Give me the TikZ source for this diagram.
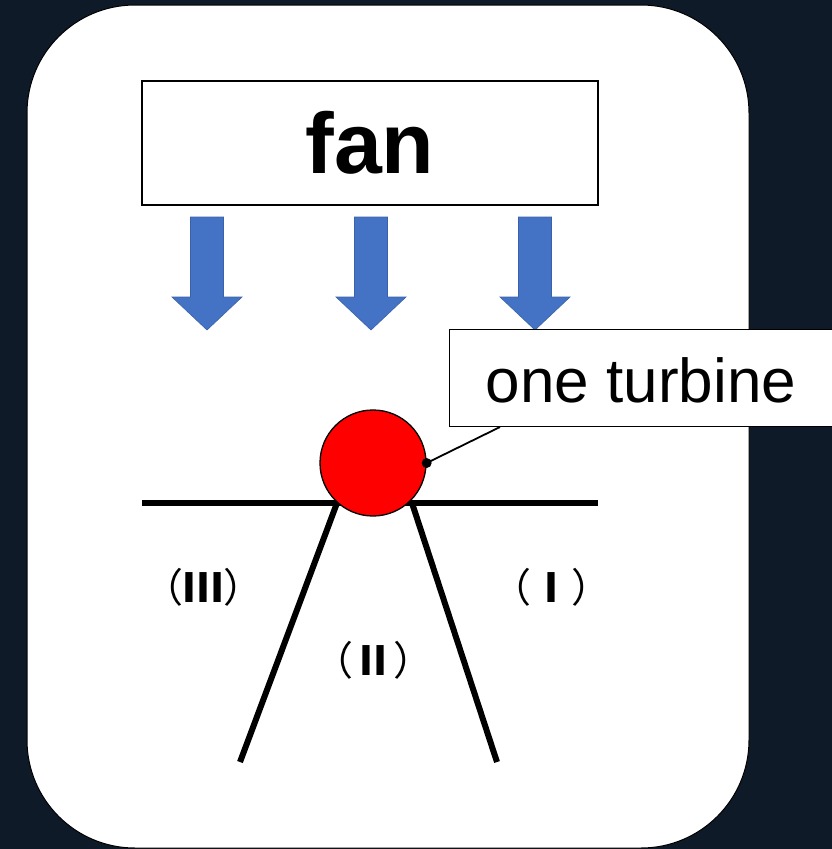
\documentclass[tikz,border=0pt]{standalone}
\usepackage{fontspec}
\setmainfont{Liberation Sans}
\newfontfamily\cjkfont{Noto Sans CJK JP}
\definecolor{bgdark}{HTML}{0E1A27}
\definecolor{flowblue}{HTML}{4472C4}
\definecolor{flowedge}{HTML}{3A62A8}
\definecolor{turbred}{HTML}{FF0000}
\tikzset{
  panel/.style={draw=black, line width=1pt, fill=white, rounded corners=108pt},
  labelbox/.style={draw=black, line width=1.3pt, fill=white, inner sep=0pt},
  flowarrow/.style={fill=flowblue, draw=flowedge, line width=0.6pt},
  wall/.style={line width=6pt},
  region/.style={font=\cjkfont\fontsize{40}{40}\selectfont, inner sep=0pt},
}
\newcommand{\numeral}[1]{{\bfseries #1}}
\begin{document}
\begin{tikzpicture}[x=1pt, y=-1pt]
  \useasboundingbox (0,0) rectangle (832,849);
  % dark backdrop and white panel
  \fill[bgdark] (0,0) rectangle (832,849);
  \draw[panel] (27,5) rectangle (749,848);

  % fan box
  \node[labelbox, minimum width=456pt, minimum height=124pt,
        font=\bfseries\fontsize{86}{86}\selectfont] (fan) at (370,143) {fan};

  % air-flow arrows
  \foreach \cx/\nm in {207/a1, 371/a2, 535/a3} {
    \draw[flowarrow] (\cx-16.5,217) -- (\cx+16.5,217) -- (\cx+16.5,297)
      -- (\cx+35,297) -- (\cx,330) -- (\cx-35,297) -- (\cx-16.5,297) -- cycle;
    \coordinate (\nm) at (\cx,330);
  }

  % walls: horizontal line and two diverging legs
  \coordinate (hl) at (142,503);
  \coordinate (hr) at (598,503);
  \coordinate (ltop) at (337,503);
  \coordinate (lbot) at (240,762);
  \coordinate (rtop) at (412,503);
  \coordinate (rbot) at (497,762);
  \draw[wall] (hl) -- (hr);
  \draw[wall] (ltop) -- (lbot);
  \draw[wall] (rtop) -- (rbot);

  % turbine
  \node[circle, draw=black, line width=1.3pt, fill=turbred,
        minimum size=106pt, inner sep=0pt] (turb) at (373,463) {};

  % callout box and leader
  \node[labelbox, anchor=north west, minimum width=400pt, minimum height=97pt] (tbox) at (449,329) {};
  \node[font=\fontsize{62}{62}\selectfont, inner sep=0pt] (ttext) at (641,380) {one turbine};
  \coordinate (lead) at (500,427);
  \draw[line width=1.8pt] (turb.east) -- (lead);
  \fill (turb.east) circle (5pt);

  % region labels
  \node[region] (r3) at (203,587) {（\numeral{Ⅲ}）};
  \node[region] (r2) at (373,660) {（\numeral{Ⅱ}）};
  \node[region] (r1) at (551,587) {（\numeral{Ⅰ}）};
\end{tikzpicture}
\end{document}
